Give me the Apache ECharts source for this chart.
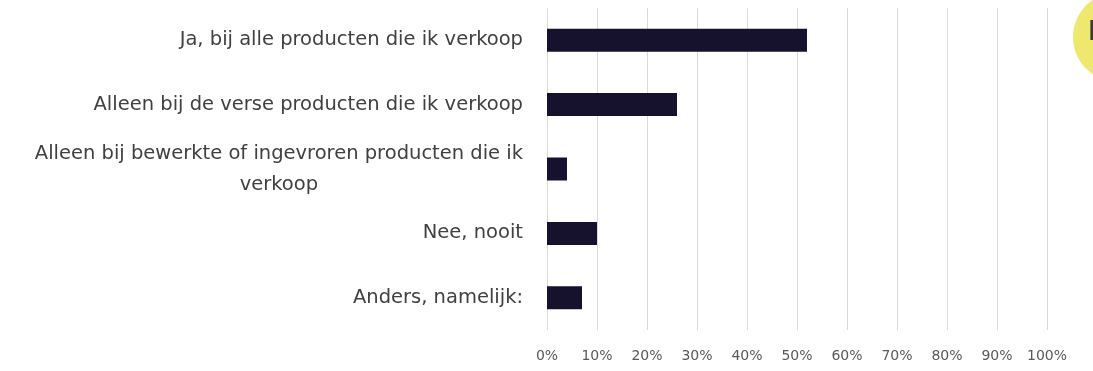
<!DOCTYPE html>
<html>
<head>
<meta charset="utf-8">
<script src="https://cdn.jsdelivr.net/npm/echarts@6/dist/echarts.min.js"></script>
<style>
  html, body { margin: 0; padding: 0; background: #ffffff; }
  #chart { width: 1093px; height: 371px; }
</style>
</head>
<body>
<div id="chart"></div>
<script>
// Survey answers, listed top to bottom
const categories = [
  'Ja, bij alle producten die ik verkoop',
  'Alleen bij de verse producten die ik verkoop',
  'Alleen bij bewerkte of ingevroren producten die ik\nverkoop',
  'Nee, nooit',
  'Anders, namelijk:'
];
// Share of respondents per answer (%)
const shares = [52, 26, 4, 10, 7];
// Horizontal axis ticks (%)
const tickValues = [0, 10, 20, 30, 40, 50, 60, 70, 80, 90, 100];

const chart = echarts.init(document.getElementById('chart'));

chart.setOption({
  animation: false,
  backgroundColor: '#ffffff',
  grid: { left: 547, right: 46, top: 8, height: 322, containLabel: false },
  xAxis: {
    type: 'value',
    min: tickValues[0],
    max: tickValues[tickValues.length - 1],
    interval: tickValues[1] - tickValues[0],
    axisLine: { show: false },
    axisTick: { show: false },
    splitLine: { show: true, lineStyle: { color: '#d9d9d9', width: 1 } },
    axisLabel: {
      formatter: '{value}%',
      color: '#595959',
      fontFamily: 'DejaVu Sans',
      fontSize: 14,
      margin: 19
    }
  },
  yAxis: {
    type: 'category',
    inverse: true,
    data: categories,
    axisLine: { show: false },
    axisTick: { show: false },
    splitLine: { show: false },
    axisLabel: {
      margin: 24,
      align: 'right',
      formatter: v => v.split('\n').map(l => '{c|' + l + '}').join('\n'),
      rich: {
        c: {
          align: 'center',
          color: '#404040',
          fontFamily: 'DejaVu Sans',
          fontSize: 19.5,
          lineHeight: 31
        }
      }
    }
  },
  series: [{
    type: 'bar',
    data: shares,
    barWidth: 23,
    itemStyle: { color: '#16122e' },
    silent: true
  }],
  graphic: [
    {
      type: 'circle',
      shape: { cx: 1118, cy: 37, r: 45 },
      style: { fill: '#efe86f' },
      z: 10
    },
    {
      type: 'text',
      left: 1088,
      top: 20,
      style: { text: 'P', fill: '#3a3a3a', font: 'bold 26px "DejaVu Sans"' },
      z: 11
    }
  ]
});
</script>
</body>
</html>
